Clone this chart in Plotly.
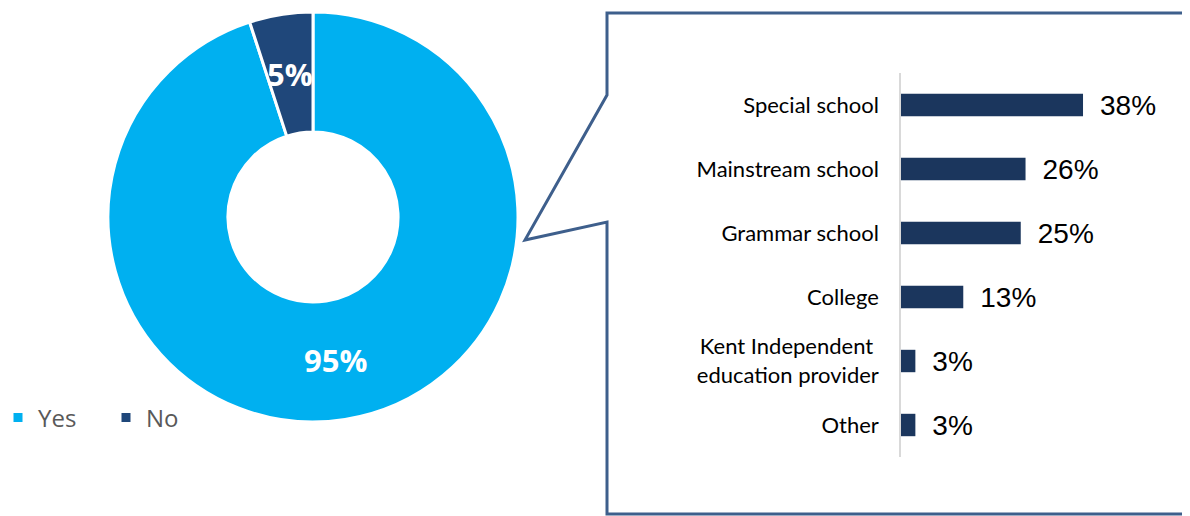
import math
import plotly.graph_objects as go

# Donut data
pie_labels = ["Yes", "No"]
pie_values = [95, 5]
pie_colors = ["#00B0F0", "#1F477A"]

# Bar data
bar_categories = ["Special school", "Mainstream school", "Grammar school", "College",
                  "Kent Independent <br>education provider", "Other"]
bar_values = [38, 26, 25, 13, 3, 3]
bar_color = "#1B365D"

W, H = 1190, 516
OFF = 8  # page body margin


def px(x):
    return (x - OFF) / W


def py(y):
    return 1 - (y - OFF) / H


# donut geometry (page pixels)
PIE_L, PIE_R, PIE_T, PIE_B = 108, 518, 12, 422
HOLE = 0.415

fig = go.Figure()

fig.add_trace(go.Pie(
    labels=pie_labels, values=pie_values, hole=HOLE, sort=False,
    direction="clockwise", rotation=0,
    marker=dict(colors=pie_colors, line=dict(color="white", width=3)),
    textinfo="none", hoverinfo="label+percent",
    domain=dict(x=[px(PIE_L), px(PIE_R)], y=[py(PIE_B), py(PIE_T)]),
    showlegend=True,
))

# percentage labels placed at each slice's mid-angle, mid-radius
cx, cy = (PIE_L + PIE_R) / 2, (PIE_T + PIE_B) / 2
R = min(PIE_R - PIE_L, PIE_B - PIE_T) / 2
rmid = R * (1 + HOLE) / 2
total = sum(pie_values)
cum = 0
annotations = []
for v in pie_values:
    theta = 2 * math.pi * (cum + v / 2) / total
    cum += v
    lx = cx + rmid * math.sin(theta)
    ly = cy - rmid * math.cos(theta)
    annotations.append(dict(
        x=px(lx), y=py(ly), xref="paper", yref="paper", showarrow=False,
        text=f"{round(100 * v / total)}%", xanchor="center", yanchor="middle",
        font=dict(family="Open Sans", size=31, color="white", weight="bold"),
    ))

fig.add_trace(go.Bar(
    x=bar_values, y=bar_categories, orientation="h",
    marker=dict(color=bar_color, line=dict(width=0)),
    texttemplate="\u2002%{x}%", textposition="outside", cliponaxis=False,
    constraintext="none",
    textfont=dict(family="Liberation Sans", size=28, color="black"),
    xaxis="x", yaxis="y", showlegend=False,
))

fig.update_layout(
    width=W, height=H,
    margin=dict(l=0, r=0, t=0, b=0, autoexpand=False),
    paper_bgcolor="white", plot_bgcolor="white",
    bargap=0.65,
    xaxis=dict(domain=[px(901), px(1140.5)], range=[0, 50], visible=False,
               showgrid=False, zeroline=False),
    yaxis=dict(domain=[py(457), py(73)], autorange="reversed",
               showgrid=False, zeroline=False, showline=True,
               linecolor="#D9D9D9", linewidth=1.5, ticks="", ticklen=0,
               ticklabelstandoff=16,
               tickfont=dict(family="Lato", size=22, color="black"),
               anchor="x"),
    legend=dict(orientation="h", x=-10 / W, y=py(418), yanchor="middle", xanchor="left",
                font=dict(family="Open Sans", size=24, color="#595959"),
                itemwidth=30, entrywidth=63, entrywidthmode="pixels",
                bgcolor="rgba(0,0,0,0)"),
    annotations=annotations,
    shapes=[dict(
        type="path", xref="paper", yref="paper",
        path=(f"M {px(607)},{py(514)} L {px(607)},{py(222)} L {px(525)},{py(240)} "
              f"L {px(607)},{py(95)} L {px(607)},{py(13)} L {px(1210)},{py(13)} "
              f"L {px(1210)},{py(514)} Z"),
        line=dict(color="#3E5F8C", width=3), fillcolor="rgba(0,0,0,0)", layer="below",
    )],
)

fig.write_html("out.html")
